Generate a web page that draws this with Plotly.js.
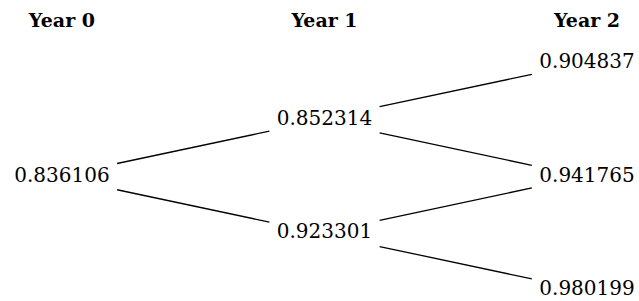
<!DOCTYPE html>
<html>
<head>
<meta charset="utf-8">
<script src="https://cdn.plot.ly/plotly-3.0.1.min.js"></script>
<style>html,body{margin:0;padding:0;background:#fff;}#chart{width:639px;height:301px;}</style>
</head>
<body>
<div id="chart"></div>
<script>
// Data
var years = ['Year 0', 'Year 1', 'Year 2'];
var year0Values = [0.836106];
var year1Values = [0.852314, 0.923301];
var year2Values = [0.904837, 0.941765, 0.980199];

var levels = [year0Values, year1Values, year2Values];

// Node positions: x = year index, y = state (downs*2 - t)
var nodeX = [], nodeY = [], nodeText = [];
levels.forEach(function (vals, t) {
  vals.forEach(function (v, j) {
    nodeX.push(t);
    nodeY.push(2 * j - t);
    nodeText.push(v.toFixed(6));
  });
});

// Edges from each node to its two children, shortened to leave room for labels
var shrink = 0.21;
var edgeX = [], edgeY = [];
for (var t = 0; t < levels.length - 1; t++) {
  for (var j = 0; j < levels[t].length; j++) {
    var x0 = t, y0 = 2 * j - t;
    [j, j + 1].forEach(function (c) {
      var x1 = t + 1, y1 = 2 * c - (t + 1);
      var dx = x1 - x0, dy = y1 - y0;
      edgeX.push(x0 + shrink * dx, x1 - shrink * dx, null);
      edgeY.push(y0 + shrink * dy * 1.1, y1 - shrink * dy * 0.95, null);
    });
  }
}

var serif = '"DejaVu Serif", "Liberation Serif", serif';

var traces = [
  {
    type: 'scatter', mode: 'lines', x: edgeX, y: edgeY,
    line: {color: '#000', width: 1.3}, hoverinfo: 'skip', showlegend: false
  },
  {
    type: 'scatter', mode: 'text', x: nodeX, y: nodeY, text: nodeText,
    textposition: 'middle center',
    textfont: {family: serif, size: 20, color: '#000'},
    hoverinfo: 'skip', showlegend: false
  },
  {
    type: 'scatter', mode: 'text', x: [0, 1, 2], y: [-2.72, -2.72, -2.72],
    text: years, textposition: 'middle center',
    textfont: {family: serif, size: 19, color: '#000', weight: 'bold'},
    hoverinfo: 'skip', showlegend: false
  }
];

var layout = {
  width: 639, height: 301,
  margin: {l: 0, r: 0, t: 0, b: 0},
  paper_bgcolor: '#fff', plot_bgcolor: '#fff',
  xaxis: {range: [-0.236, 2.198], visible: false, fixedrange: true},
  yaxis: {range: [2.19, -3.11], visible: false, fixedrange: true},
  showlegend: false
};

Plotly.newPlot('chart', traces, layout, {staticPlot: true, displayModeBar: false});
</script>
</body>
</html>
